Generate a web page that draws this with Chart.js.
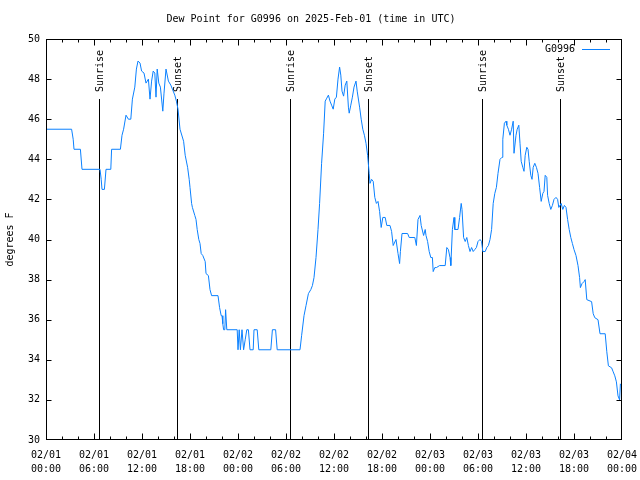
<!DOCTYPE html>
<html>
<head>
<meta charset="utf-8">
<script src="https://cdn.jsdelivr.net/npm/chart.js@4"></script>
<style>
  html, body { margin: 0; padding: 0; background: #fff; }
  canvas { display: block; }
</style>
</head>
<body>
<canvas id="dewpoint" width="640" height="480"></canvas>
<script>
// hours since 02/01 00:00 UTC
const hours = [0, 3.2, 3.4, 3.5, 4.3, 4.5, 6.75, 6.9, 7.0, 7.3, 7.5, 8.1, 8.2, 9.3, 9.5, 9.7, 10.0, 10.3, 10.6, 10.8,
    11.1, 11.3, 11.5, 11.75, 11.95, 12.25, 12.5, 12.8, 13.0, 13.2, 13.4, 13.6, 13.75, 13.9, 14.1, 14.3, 14.6, 14.75, 15.0, 15.3,
    15.6, 15.8, 16.1, 16.3, 16.5, 16.75, 17.2, 17.4, 17.7, 17.9, 18.0, 18.2, 18.3, 18.6, 18.75, 18.9, 19.1, 19.25, 19.4, 19.6,
    19.9, 20.0, 20.3, 20.5, 20.7, 21.5, 21.7, 21.9, 22.0, 22.1, 22.2, 22.35, 22.45, 22.6, 23.9, 24.0, 24.15, 24.3, 24.5, 24.7,
    24.9, 25.1, 25.3, 25.5, 25.9, 26.0, 26.4, 26.6, 28.1, 28.3, 28.7, 28.9, 31.75, 31.95, 32.25, 32.5, 32.8, 33.1, 33.3, 33.5,
    33.75, 34.0, 34.2, 34.45, 34.7, 34.9, 35.1, 35.3, 35.5, 35.7, 35.9, 36.1, 36.3, 36.5, 36.7, 36.85, 37.0, 37.2, 37.4, 37.6,
    37.8, 37.9, 38.1, 38.3, 38.5, 38.75, 38.9, 39.2, 39.4, 39.6, 39.8, 40.0, 40.2, 40.4, 40.5, 40.7, 40.9, 41.1, 41.3, 41.5,
    41.7, 41.9, 42.1, 42.4, 42.6, 43.0, 43.2, 43.4, 43.75, 44.0, 44.2, 44.3, 44.5, 45.2, 45.4, 46.1, 46.3, 46.5, 46.75, 46.9,
    47.2, 47.4, 47.5, 47.7, 47.9, 48.1, 48.3, 48.4, 48.6, 48.8, 49.2, 49.9, 50.1, 50.3, 50.5, 50.6, 50.8, 51.0, 51.1, 51.5,
    51.7, 51.9, 52.0, 52.2, 52.4, 52.6, 52.8, 53.0, 53.2, 53.4, 53.6, 53.8, 54.0, 54.25, 54.45, 54.6, 54.9, 55.1, 55.3, 55.5,
    55.7, 55.9, 56.1, 56.3, 56.5, 56.75, 57.0, 57.1, 57.3, 57.5, 57.6, 57.8, 58.0, 58.2, 58.4, 58.5, 58.75, 58.9, 59.1, 59.25,
    59.4, 59.6, 59.75, 59.9, 60.1, 60.25, 60.4, 60.6, 60.75, 60.9, 61.1, 61.3, 61.5, 61.7, 61.9, 62.1, 62.25, 62.4, 62.6, 62.7,
    62.9, 63.1, 63.3, 63.5, 63.75, 63.95, 64.1, 64.4, 64.6, 64.8, 65.0, 65.2, 65.4, 65.6, 65.8, 66.0, 66.25, 66.5, 66.7, 66.8,
    67.0, 67.25, 67.4, 67.6, 68.2, 68.4, 68.6, 69.0, 69.25, 69.9, 70.1, 70.3, 70.7, 70.9, 71.1, 71.3, 71.5, 71.7, 71.8, 72.0];

const dewPoint = [45.5, 45.5, 45.0, 44.5, 44.5, 43.5, 43.5, 43.0, 42.5, 42.5, 43.5, 43.5, 44.5, 44.5, 45.2, 45.5, 46.2, 46.0, 46.0, 47.0,
    47.6, 48.5, 48.9, 48.8, 48.4, 48.3, 47.8, 48.0, 47.0, 47.9, 48.4, 48.3, 47.1, 48.5, 47.8, 47.6, 46.4, 47.3, 48.5, 47.9,
    47.7, 47.5, 47.2, 46.9, 46.5, 45.5, 44.9, 44.2, 43.6, 43.0, 42.6, 41.8, 41.6, 41.2, 41.0, 40.5, 40.0, 39.8, 39.3, 39.2,
    38.9, 38.3, 38.2, 37.5, 37.2, 37.2, 36.6, 36.2, 36.2, 35.8, 35.5, 35.5, 36.5, 35.5, 35.5, 34.5, 35.5, 34.5, 35.5, 34.5,
    35.0, 35.5, 35.5, 34.5, 34.5, 35.5, 35.5, 34.5, 34.5, 35.5, 35.5, 34.5, 34.5, 35.2, 36.2, 36.7, 37.3, 37.5, 37.7, 38.1,
    39.1, 40.5, 41.8, 43.8, 45.3, 46.9, 47.05, 47.2, 46.9, 46.7, 46.5, 47.0, 47.1, 48.0, 48.6, 48.2, 47.4, 47.15, 47.7, 47.9,
    46.6, 46.3, 46.7, 47.1, 47.6, 47.9, 47.4, 46.6, 46.0, 45.5, 45.2, 44.8, 44.2, 43.3, 42.8, 43.0, 42.9, 42.1, 41.8, 41.9,
    41.4, 40.6, 41.1, 41.1, 40.7, 40.7, 40.4, 39.7, 40.0, 39.3, 38.8, 39.4, 40.3, 40.3, 40.1, 40.1, 39.7, 41.0, 41.2, 40.7,
    40.2, 40.5, 40.2, 39.9, 39.4, 39.1, 39.1, 38.4, 38.6, 38.6, 38.7, 38.7, 39.6, 39.5, 39.1, 38.7, 40.5, 41.1, 40.5, 40.5,
    41.1, 41.8, 41.5, 40.1, 39.9, 40.1, 39.7, 39.4, 39.6, 39.4, 39.5, 39.6, 39.9, 40.0, 39.9, 39.4, 39.4, 39.6, 39.7, 40.0,
    40.5, 41.8, 42.3, 42.6, 43.3, 44.0, 44.1, 45.0, 45.8, 45.9, 45.7, 45.5, 45.2, 45.5, 45.9, 44.3, 45.2, 45.5, 45.7, 44.8,
    43.9, 43.6, 43.4, 44.2, 44.6, 44.5, 43.9, 43.2, 43.0, 43.6, 43.8, 43.6, 43.3, 42.6, 41.9, 42.3, 42.4, 43.2, 43.1, 42.2,
    41.8, 41.5, 41.7, 42.0, 42.1, 42.0, 41.6, 41.8, 41.5, 41.7, 41.6, 41.0, 40.5, 40.1, 39.8, 39.5, 39.2, 38.7, 38.1, 37.6,
    37.8, 37.9, 38.0, 37.0, 36.9, 36.3, 36.1, 36.0, 35.3, 35.3, 34.4, 33.7, 33.6, 33.4, 33.2, 32.9, 32.2, 32.0, 32.8, 32.7];

const sunTimes = [6.67, 16.33, 30.55, 40.3, 54.55, 64.25];
const sunLabels = ['Sunrise', 'Sunset', 'Sunrise', 'Sunset', 'Sunrise', 'Sunset'];

const dayLabels = ['02/01', '02/01', '02/01', '02/01', '02/02', '02/02', '02/02', '02/02', '02/03', '02/03', '02/03', '02/03', '02/04'];
const timeLabels = ['00:00', '06:00', '12:00', '18:00', '00:00', '06:00', '12:00', '18:00', '00:00', '06:00', '12:00', '18:00', '00:00'];

const mono = 'DejaVu Sans Mono';
const lineColor = '#0a80ff';

// gnuplot style frame, inward ticks, sunrise/sunset markers, legend
const gnuplotBits = {
    id: 'gnuplotBits',
    beforeDatasetsDraw(chart) {
        const ctx = chart.ctx;
        const x = chart.scales.x;
        const area = chart.chartArea;
        ctx.save();
        ctx.strokeStyle = '#000';
        ctx.fillStyle = '#000';
        ctx.lineWidth = 1;
        ctx.font = '10px ' + mono;
        sunTimes.forEach((t, i) => {
            const px = Math.round(x.getPixelForValue(t)) + 0.5;
            ctx.beginPath();
            ctx.moveTo(px, area.bottom);
            ctx.lineTo(px, area.top + 60);
            ctx.stroke();
            ctx.save();
            ctx.translate(px + 1, area.top + 53);
            ctx.rotate(-Math.PI / 2);
            ctx.textAlign = 'left';
            ctx.textBaseline = 'middle';
            ctx.fillText(sunLabels[i], 0, 0);
            ctx.restore();
        });
        ctx.restore();
    },
    afterDraw(chart) {
        const ctx = chart.ctx;
        const x = chart.scales.x;
        const y = chart.scales.y;
        const area = chart.chartArea;
        ctx.save();
        ctx.strokeStyle = '#000';
        ctx.lineWidth = 1;
        const l = Math.round(area.left) + 0.5;
        const r = Math.round(area.right) - 0.5;
        const t = Math.round(area.top) + 0.5;
        const b = Math.round(area.bottom) - 0.5;
        ctx.beginPath();
        for (let h = 2; h < 72; h += 2) {
            const px = Math.round(x.getPixelForValue(h)) + 0.5;
            const len = h % 6 === 0 ? 6 : 3;
            ctx.moveTo(px, b); ctx.lineTo(px, b - len);
            ctx.moveTo(px, t); ctx.lineTo(px, t + len);
        }
        for (let v = 32; v < 50; v += 2) {
            const py = Math.round(y.getPixelForValue(v)) + 0.5;
            ctx.moveTo(l, py); ctx.lineTo(l + 5, py);
            ctx.moveTo(r, py); ctx.lineTo(r - 5, py);
        }
        ctx.strokeRect(l, t, r - l, b - t);
        ctx.stroke();

        // legend
        const ly = Math.round(area.top + 10) + 0.5;
        ctx.font = '10px ' + mono;
        ctx.fillStyle = '#000';
        ctx.textAlign = 'right';
        ctx.textBaseline = 'middle';
        ctx.fillText(chart.data.datasets[0].label, area.right - 47, ly);
        ctx.strokeStyle = lineColor;
        ctx.beginPath();
        ctx.moveTo(area.right - 40, ly);
        ctx.lineTo(area.right - 12, ly);
        ctx.stroke();
        ctx.restore();
    }
};

const ctx = document.querySelector('#dewpoint').getContext('2d');
new Chart(ctx, {
    type: 'line',
    data: {
        datasets: [{
            label: 'G0996',
            data: hours.map((h, i) => ({ x: h, y: dewPoint[i] })),
            borderColor: lineColor,
            borderWidth: 1,
            pointRadius: 0,
            tension: 0,
            fill: false
        }]
    },
    options: {
        responsive: false,
        devicePixelRatio: 1,
        animation: false,
        layout: {
            padding: { left: 0, right: 18, top: 0, bottom: 0 }
        },
        plugins: {
            legend: { display: false },
            tooltip: { enabled: false },
            title: {
                display: true,
                text: 'Dew Point for G0996 on 2025-Feb-01 (time in UTC)',
                color: '#000',
                font: { family: mono, size: 10, weight: 'normal', lineHeight: 1.2 },
                padding: { top: 13, bottom: 14 }
            }
        },
        scales: {
            x: {
                type: 'linear',
                min: 0,
                max: 72,
                grid: { display: false, drawTicks: false },
                border: { display: false },
                afterFit: (scale) => {
                    scale.height = 40;
                    scale.paddingLeft = 0;
                    scale.paddingRight = 0;
                },
                ticks: {
                    stepSize: 6,
                    autoSkip: false,
                    maxRotation: 0,
                    padding: 8,
                    color: '#000',
                    font: { family: mono, size: 10, lineHeight: 1.4 },
                    callback: function (value, index) {
                        return [dayLabels[index], timeLabels[index]];
                    }
                }
            },
            y: {
                min: 30,
                max: 50,
                grid: { display: false, drawTicks: false },
                border: { display: false },
                afterFit: (scale) => { scale.width = 46; },
                title: {
                    display: true,
                    text: 'degrees F',
                    color: '#000',
                    font: { family: mono, size: 10, lineHeight: 1.2 },
                    padding: { top: 4, bottom: 0 }
                },
                ticks: {
                    stepSize: 2,
                    padding: 6,
                    color: '#000',
                    font: { family: mono, size: 10 }
                }
            }
        }
    },
    plugins: [gnuplotBits]
});
</script>
</body>
</html>
